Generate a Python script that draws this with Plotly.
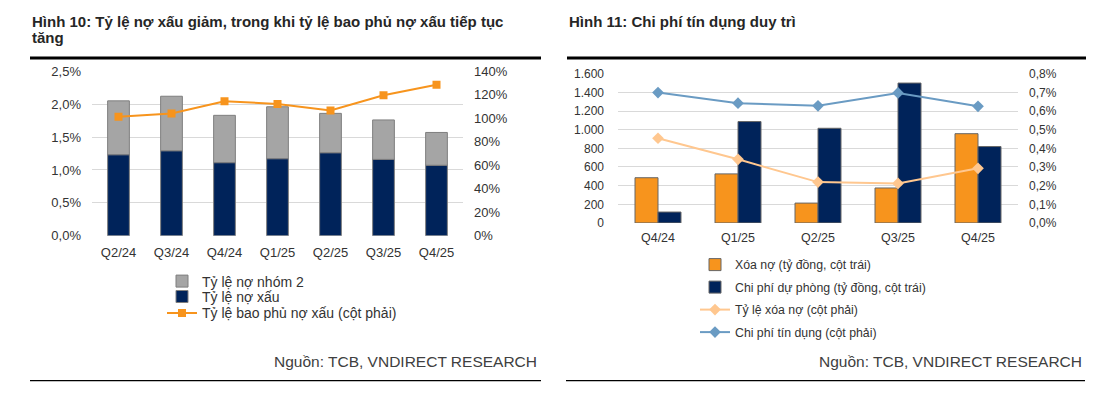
import plotly.graph_objects as go

W, H = 1104, 403

# ---- Left chart data ----
quarters_left = ["Q2/24", "Q3/24", "Q4/24", "Q1/25", "Q2/25", "Q3/25", "Q4/25"]
npl_ratio = [1.23, 1.29, 1.11, 1.17, 1.26, 1.16, 1.07]          # Tỷ lệ nợ xấu (%)
group2_ratio = [0.82, 0.83, 0.72, 0.79, 0.60, 0.60, 0.50]       # Tỷ lệ nợ nhóm 2 (%)
coverage_ratio = [101.3, 104.0, 114.4, 112.2, 106.7, 119.5, 128.5]  # Tỷ lệ bao phủ (%)

# ---- Right chart data ----
quarters_right = ["Q4/24", "Q1/25", "Q2/25", "Q3/25", "Q4/25"]
write_off = [485, 526, 213, 375, 957]          # Xóa nợ (tỷ đồng)
provision = [117, 1087, 1015, 1500, 819]       # Chi phí dự phòng (tỷ đồng)
write_off_ratio = [0.454, 0.341, 0.219, 0.212, 0.293]   # Tỷ lệ xóa nợ (%)
credit_cost = [0.699, 0.642, 0.628, 0.697, 0.625]       # Chi phí tín dụng (%)

left_ticks = [0, 0.5, 1.0, 1.5, 2.0, 2.5]
left_ticktext = ["0,0%", "0,5%", "1,0%", "1,5%", "2,0%", "2,5%"]
left2_ticks = [0, 20, 40, 60, 80, 100, 120, 140]
left2_ticktext = ["0%", "20%", "40%", "60%", "80%", "100%", "120%", "140%"]
right_ticks = [0, 200, 400, 600, 800, 1000, 1200, 1400, 1600]
right_ticktext = ["0", "200", "400", "600", "800", "1.000", "1.200", "1.400", "1.600"]
right2_ticks = [0, 0.1, 0.2, 0.3, 0.4, 0.5, 0.6, 0.7, 0.8]
right2_ticktext = ["0,0%", "0,1%", "0,2%", "0,3%", "0,4%", "0,5%", "0,6%", "0,7%", "0,8%"]

NAVY = "#00235A"
GRAY = "#A5A5A5"
ORANGE = "#F7941D"
PEACH = "#FFC78F"
STEEL = "#6A9BC3"
TXT = "#333333"
GRID = "#D9D9D9"
FONT = "Liberation Sans, Arial, sans-serif"


def px(x):
    return x / W


def py(y):
    return 1 - y / H


fig = go.Figure()

# Left chart bars (stack via base)
fig.add_trace(go.Bar(
    x=quarters_left, y=group2_ratio, base=npl_ratio, name="Tỷ lệ nợ nhóm 2",
    marker=dict(color=GRAY, line=dict(color="#7F7F7F", width=1)),
    width=0.41, offset=-0.205, xaxis="x", yaxis="y", legend="legend"))
fig.add_trace(go.Bar(
    x=quarters_left, y=npl_ratio, name="Tỷ lệ nợ xấu",
    marker=dict(color=NAVY, line=dict(color="#7F7F7F", width=1)),
    width=0.41, offset=-0.205, xaxis="x", yaxis="y", legend="legend3"))
fig.add_trace(go.Scatter(
    x=quarters_left, y=coverage_ratio, name="Tỷ lệ bao phủ nợ xấu (cột phải)",
    mode="lines+markers", line=dict(color=ORANGE, width=2),
    marker=dict(symbol="square", size=8, color=ORANGE),
    xaxis="x", yaxis="y2", legend="legend4"))

# Right chart
fig.add_trace(go.Bar(
    x=quarters_right, y=write_off, name="Xóa nợ (tỷ đồng, cột trái)",
    marker=dict(color=ORANGE, line=dict(color="#666666", width=1)),
    width=0.2875, offset=-0.2875, xaxis="x2", yaxis="y3", legend="legend2",
    legendgroup="b1"))
fig.add_trace(go.Bar(
    x=quarters_right, y=provision, name="Chi phí dự phòng (tỷ đồng, cột trái)",
    marker=dict(color=NAVY, line=dict(color="#666666", width=1)),
    width=0.2875, offset=0, xaxis="x2", yaxis="y3", legend="legend2",
    legendgroup="b2"))
fig.add_trace(go.Scatter(
    x=quarters_right, y=write_off_ratio, name="Tỷ lệ xóa nợ (cột phải)",
    mode="lines+markers", line=dict(color=PEACH, width=2),
    marker=dict(symbol="diamond", size=9, color=PEACH),
    xaxis="x2", yaxis="y4", legend="legend2", legendgroup="b3"))
fig.add_trace(go.Scatter(
    x=quarters_right, y=credit_cost, name="Chi phí tín dụng (cột phải)",
    mode="lines+markers", line=dict(color=STEEL, width=2),
    marker=dict(symbol="diamond", size=9, color=STEEL),
    xaxis="x2", yaxis="y4", legend="legend2", legendgroup="b4"))

tick_l = dict(family=FONT, size=13, color=TXT)
tick_r = dict(family=FONT, size=12.5, color=TXT)
leg_l_font = dict(family=FONT, size=14, color=TXT)


def left_legend(y_top):
    return dict(x=px(162), y=py(y_top), xanchor="left", yanchor="top",
                bgcolor="rgba(0,0,0,0)", font=leg_l_font, itemwidth=30)


fig.update_layout(
    width=W, height=H, margin=dict(l=0, r=0, t=0, b=0),
    paper_bgcolor="white", plot_bgcolor="white",
    font=dict(family=FONT, color=TXT),
    barmode="group",
    xaxis=dict(domain=[px(92), px(463)], anchor="y", range=[-0.5, 6.5],
               showgrid=False, showline=False, ticks="", tickfont=tick_l,
               ticklabelstandoff=7),
    yaxis=dict(domain=[py(237.7), py(66.7)], anchor="x", range=[0, 2.5],
               tickvals=left_ticks, ticktext=left_ticktext, showgrid=True,
               gridcolor=GRID, gridwidth=1, zeroline=False, tickfont=tick_l,
               ticklabelstandoff=10),
    yaxis2=dict(domain=[py(237.7), py(66.7)], anchor="x", overlaying="y",
                side="right", range=[0, 140], tickvals=left2_ticks,
                ticktext=left2_ticktext, showgrid=False, zeroline=False,
                tickfont=tick_l, ticklabelstandoff=10),
    xaxis2=dict(domain=[px(618), px(1018)], anchor="y3", range=[-0.5, 4.5],
                showgrid=False, showline=False, ticks="", tickfont=tick_r,
                ticklabelstandoff=6),
    yaxis3=dict(domain=[py(224.3), py(69.3)], anchor="x2", range=[0, 1600],
                tickvals=right_ticks, ticktext=right_ticktext, showgrid=True,
                gridcolor=GRID, gridwidth=1, zeroline=False,
                tickfont=dict(family=FONT, size=12, color=TXT),
                ticklabelstandoff=13),
    yaxis4=dict(domain=[py(224.3), py(69.3)], anchor="x2", overlaying="y3",
                side="right", range=[0, 0.8], tickvals=right2_ticks,
                ticktext=right2_ticktext, showgrid=False, zeroline=False,
                tickfont=dict(family=FONT, size=12, color=TXT),
                ticklabelstandoff=10),
    legend=left_legend(268.5),
    legend3=left_legend(284.5),
    legend4=left_legend(301.5),
    legend2=dict(x=px(695), y=py(252.5), xanchor="left", yanchor="top",
                 bgcolor="rgba(0,0,0,0)",
                 font=dict(family=FONT, size=12.3, color=TXT),
                 tracegroupgap=3.5, itemwidth=30),
    showlegend=True,
)

title_font = dict(family=FONT, size=15, color="#262626", weight="bold")
src_font = dict(family=FONT, size=15.5, color="#404040")
annotations = [
    dict(text="Hình 10: Tỷ lệ nợ xấu giảm, trong khi tỷ lệ bao phủ nợ xấu tiếp tục",
         x=px(30), y=py(15), xanchor="left", yanchor="middle", font=title_font),
    dict(text="tăng", x=px(30), y=py(31.5), xanchor="left", yanchor="middle",
         font=title_font),
    dict(text="Hình 11: Chi phí tín dụng duy trì",
         x=px(567), y=py(15), xanchor="left", yanchor="middle", font=title_font),
    dict(text="Nguồn: TCB, VNDIRECT RESEARCH", x=px(539), y=py(368),
         xanchor="right", yanchor="middle", font=src_font),
    dict(text="Nguồn: TCB, VNDIRECT RESEARCH", x=px(1084), y=py(368),
         xanchor="right", yanchor="middle", font=src_font),
]
for a in annotations:
    a.update(xref="paper", yref="paper", showarrow=False)
fig.update_layout(annotations=annotations)

shapes = [
    dict(type="line", x0=px(30), x1=px(541), y0=py(53), y1=py(53),
         line=dict(color="black", width=3)),
    dict(type="line", x0=px(567), x1=px(1086), y0=py(53), y1=py(53),
         line=dict(color="black", width=3)),
    dict(type="line", x0=px(30), x1=px(541), y0=py(388), y1=py(388),
         line=dict(color="black", width=1.3)),
    dict(type="line", x0=px(566), x1=px(1085), y0=py(388), y1=py(388),
         line=dict(color="black", width=1.3)),
]
for s in shapes:
    s.update(xref="paper", yref="paper")
fig.update_layout(shapes=shapes)

# Let the figure fill the window exactly (no default 8px body margin)
fig.write_html(
    "out.html",
    config={"displayModeBar": False},
    post_script="document.body.style.margin='0px';document.body.style.overflow='hidden';",
)
